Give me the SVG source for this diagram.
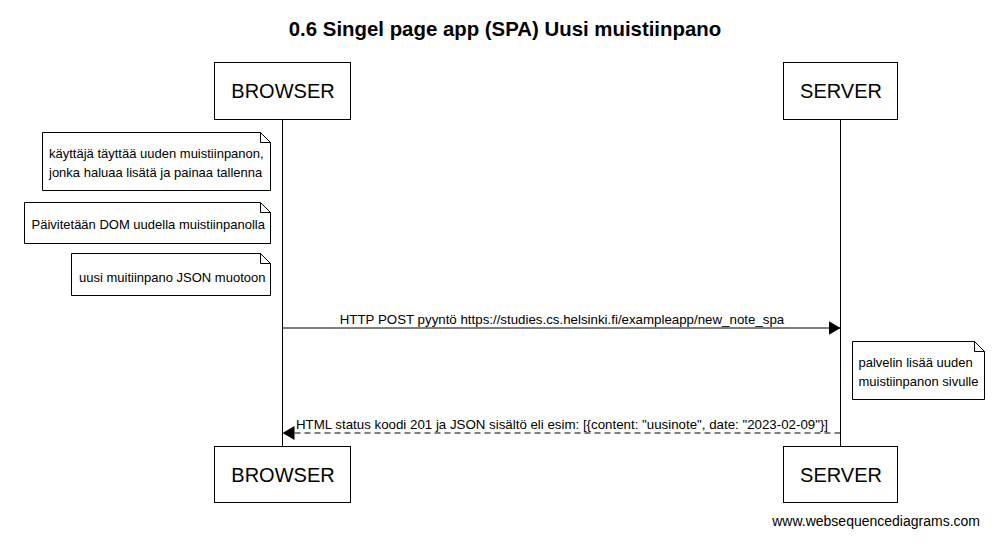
<svg xmlns="http://www.w3.org/2000/svg" width="1007" height="549" viewBox="0 0 1007 549">
<defs>
<style>
text{font-family:"Liberation Sans",Arial,sans-serif;fill:#000}
.title{font-size:20.4px;font-weight:bold}
.actor{font-size:20px}
.small{font-size:13.3px}
.note{font-size:13px}
.box{fill:#fff;stroke:#000;stroke-width:1}
.life{stroke:#000;stroke-width:1}
.msg{stroke:#000;stroke-width:1;fill:none}
.dash{stroke-dasharray:6,4}
.wm{font-size:14px}
</style>
<marker id="ah" viewBox="0 0 12 14" refX="12" refY="7" markerWidth="12" markerHeight="14" markerUnits="userSpaceOnUse" orient="auto">
<path d="M0,0 L12,7 L0,14 Z" fill="#000"/>
</marker>
</defs>
<rect width="1007" height="549" fill="#fff"/>
<text class="title" x="505" y="36" text-anchor="middle">0.6 Singel page app (SPA) Uusi muistiinpano</text>
<g id="lifelines">
<line class="life" x1="282.5" y1="119" x2="282.5" y2="446"/>
<line class="life" x1="840.5" y1="119" x2="840.5" y2="446"/>
</g>
<g id="browser-top">
<rect class="box" x="214.5" y="62.5" width="136" height="57"/>
<text class="actor" x="283" y="98" text-anchor="middle">BROWSER</text>
</g>
<g id="server-top">
<rect class="box" x="783.5" y="62.5" width="114" height="57"/>
<text class="actor" x="841" y="98" text-anchor="middle">SERVER</text>
</g>
<g id="note1">
<path class="box" d="M42.5,132.5 H260.5 L270.5,142.5 V190.5 H42.5 Z"/>
<path class="msg" d="M260.5,132.5 V142.5 H270.5"/>
<text class="note" x="49" y="158">käyttäjä täyttää uuden muistiinpanon,</text>
<text class="note" x="49" y="177">jonka haluaa lisätä ja painaa tallenna</text>
</g>
<g id="note2">
<path class="box" d="M24.5,202.5 H260.5 L270.5,212.5 V243.5 H24.5 Z"/>
<path class="msg" d="M260.5,202.5 V212.5 H270.5"/>
<text class="note" x="31.5" y="229">Päivitetään DOM uudella muistiinpanolla</text>
</g>
<g id="note3">
<path class="box" d="M71.5,253.5 H260.5 L270.5,263.5 V295.5 H71.5 Z"/>
<path class="msg" d="M260.5,253.5 V263.5 H270.5"/>
<text class="note" x="79" y="281.5">uusi muitiinpano JSON muotoon</text>
</g>
<g id="note4">
<path class="box" d="M852.5,341.5 H974.5 L984.5,351.5 V399.5 H852.5 Z"/>
<path class="msg" d="M974.5,341.5 V351.5 H984.5"/>
<text class="note" x="858.5" y="367">palvelin lisää uuden</text>
<text class="note" x="858.5" y="386">muistiinpanon sivulle</text>
</g>
<g id="connectors">
<line class="msg" x1="282.5" y1="328" x2="840.5" y2="328" marker-end="url(#ah)"/>
<text class="small" x="562" y="324" text-anchor="middle">HTTP POST pyyntö https://studies.cs.helsinki.fi/exampleapp/new_note_spa</text>
<line class="msg dash" x1="840.5" y1="433" x2="282.5" y2="433" marker-end="url(#ah)"/>
<text class="small" x="562" y="429" text-anchor="middle">HTML status koodi 201 ja JSON sisältö eli esim: [{content: "uusinote", date: "2023-02-09"}]</text>
</g>
<g id="browser-bottom">
<rect class="box" x="214.5" y="446.5" width="136" height="56"/>
<text class="actor" x="283" y="482" text-anchor="middle">BROWSER</text>
</g>
<g id="server-bottom">
<rect class="box" x="783.5" y="446.5" width="114" height="56"/>
<text class="actor" x="841" y="482" text-anchor="middle">SERVER</text>
</g>
<text class="wm" x="980" y="526" text-anchor="end">www.websequencediagrams.com</text>
</svg>
